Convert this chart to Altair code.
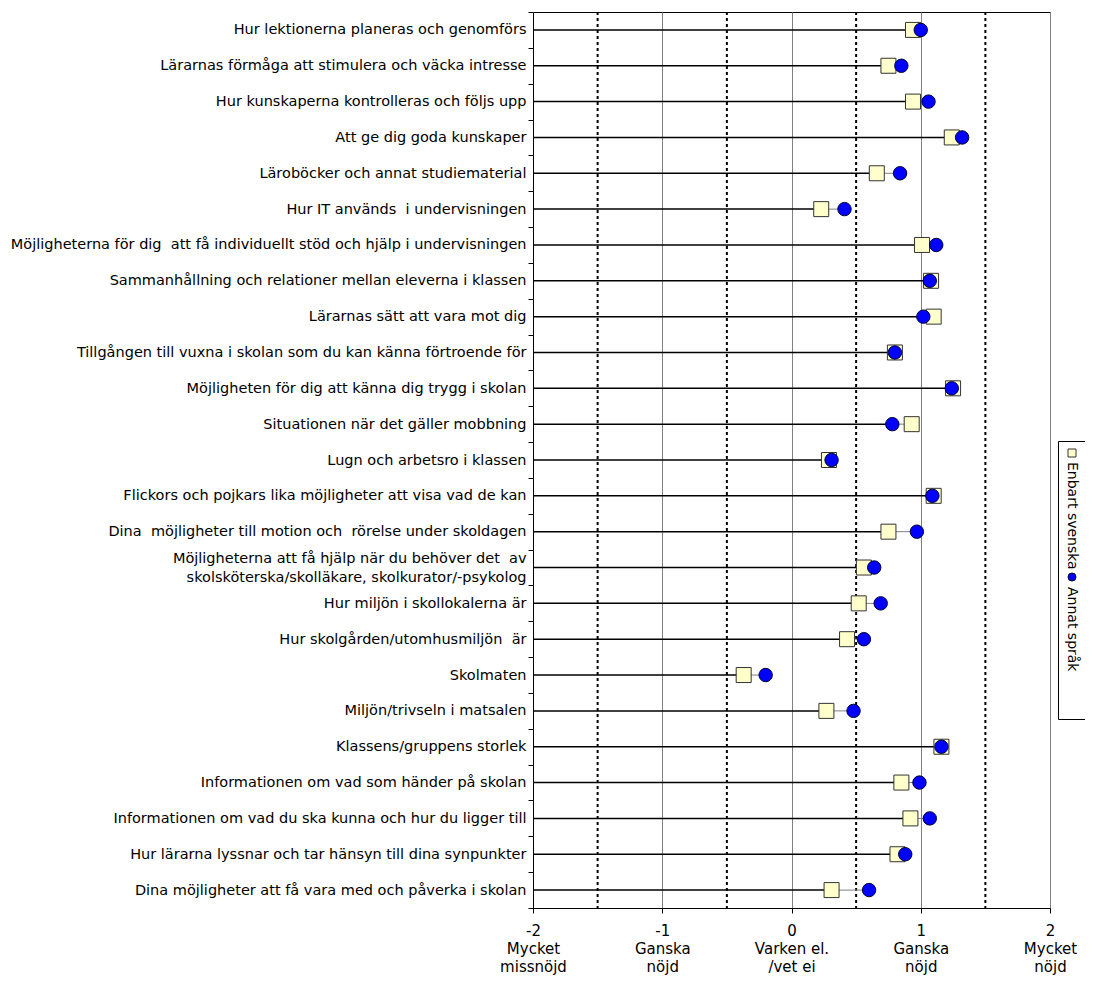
import json
import altair as alt
import pandas as pd

NB = "\u00a0"

categories = [
    "Hur lektionerna planeras och genomförs",
    "Lärarnas förmåga att stimulera och väcka intresse",
    "Hur kunskaperna kontrolleras och följs upp",
    "Att ge dig goda kunskaper",
    "Läroböcker och annat studiematerial" + NB,
    "Hur IT används" + NB + " i undervisningen",
    "Möjligheterna för dig" + NB + " att få individuellt stöd och hjälp i undervisningen",
    "Sammanhållning och relationer mellan eleverna i klassen" + NB,
    "Lärarnas sätt att vara mot dig" + NB,
    "Tillgången till vuxna i skolan som du kan känna förtroende för",
    "Möjligheten för dig att känna dig trygg i skolan",
    "Situationen när det gäller mobbning" + NB,
    "Lugn och arbetsro i klassen" + NB,
    "Flickors och pojkars lika möjligheter att visa vad de kan",
    "Dina" + NB + " möjligheter till motion och" + NB + " rörelse under skoldagen" + NB,
    "Möjligheterna att få hjälp när du behöver det" + NB + " av" + NB + NB + "|skolsköterska/skolläkare, skolkurator/-psykolog",
    "Hur miljön i skollokalerna är" + NB,
    "Hur skolgården/utomhusmiljön" + NB + " är" + NB,
    "Skolmaten" + NB,
    "Miljön/trivseln i matsalen",
    "Klassens/gruppens storlek" + NB,
    "Informationen om vad som händer på skolan",
    "Informationen om vad du ska kunna och hur du ligger till",
    "Hur lärarna lyssnar och tar hänsyn till dina synpunkter",
    "Dina möjligheter att få vara med och påverka i skolan",
]

enbart_svenska = [0.94, 0.75, 0.94, 1.24, 0.66, 0.23, 1.01, 1.08, 1.10, 0.80,
                  1.25, 0.93, 0.29, 1.10, 0.75, 0.56, 0.52, 0.43, -0.37, 0.27,
                  1.16, 0.85, 0.92, 0.82, 0.31]
annat_sprak = [1.00, 0.85, 1.06, 1.32, 0.84, 0.41, 1.12, 1.07, 1.02, 0.80,
               1.24, 0.78, 0.31, 1.09, 0.97, 0.64, 0.69, 0.56, -0.20, 0.48,
               1.16, 0.99, 1.07, 0.88, 0.60]

series_names = ["Enbart svenska", "Annat språk"]

x_tick_values = [-2, -1, 0, 1, 2]
x_tick_texts = ["-2|Mycket|missnöjd", "-1|Ganska|nöjd", "0|Varken el.|/vet ei",
                "1|Ganska|nöjd", "2|Mycket|nöjd"]
dotted_at = [-1.5, -0.5, 0.5, 1.5]

FONT = "DejaVu Sans"
FS = 14.5

df = pd.DataFrame({
    "cat": categories,
    "sv": enbart_svenska,
    "an": annat_sprak,
})
df["lo"] = df[["sv", "an"]].min(axis=1)
df["hi"] = df[["sv", "an"]].max(axis=1)

xscale = alt.Scale(domain=[-2, 2], nice=False, zero=False)
x_label_expr = (
    "split(" + json.dumps(x_tick_texts, ensure_ascii=False)
    + "[indexof(" + json.dumps(x_tick_values) + ", datum.value)], '|')"
)

yenc = alt.Y(
    "cat:N", sort=categories, title=None,
    scale=alt.Scale(paddingInner=0, paddingOuter=0),
    axis=alt.Axis(
        tickBand="extent", ticks=True, tickSize=5, tickColor="black",
        domainColor="black", labelFont=FONT, labelFontSize=FS, labelColor="black",
        labelPadding=2, labelLimit=0, labelLineHeight=19,
        labelOffset={"condition": {"test": "indexof(datum.label, '|') >= 0", "value": -9.5},
                     "value": 0},
        labelExpr="split(datum.label, '|')", grid=False,
    ),
)

base = alt.Chart(df)

xaxis = alt.Axis(
    values=x_tick_values, grid=True, gridColor="#808080", gridWidth=1,
    tickColor="black", tickSize=5, domainColor="black",
    labelFont=FONT, labelFontSize=15, labelColor="black",
    labelLineHeight=18, labelPadding=10, labelExpr=x_label_expr,
    labelFlush=False, labelOverlap=False, title=None,
)

stems = base.mark_rule(color="black", strokeWidth=1.5).encode(
    x=alt.X("lo:Q", scale=xscale, axis=xaxis),
    x2=alt.value(0),
    y=yenc,
)

dots_df = pd.DataFrame({"v": dotted_at})
dotted = alt.Chart(dots_df).mark_rule(
    color="black", strokeWidth=2, strokeDash=[3, 3]
).encode(x=alt.X("v:Q", scale=xscale))

gap = base.mark_rule(color="#808080", strokeWidth=1).encode(
    x=alt.X("lo:Q", scale=xscale), x2="hi:Q", y=alt.Y("cat:N", sort=categories)
)

squares = base.mark_point(
    shape="square", filled=True, size=225, fill="#FFFFCC", stroke="#333333",
    strokeWidth=1, opacity=1,
).encode(x=alt.X("sv:Q", scale=xscale), y=alt.Y("cat:N", sort=categories))

circles = base.mark_point(
    shape="circle", filled=True, size=180, fill="#0000FF", stroke="#000033",
    strokeWidth=1, opacity=1,
).encode(x=alt.X("an:Q", scale=xscale), y=alt.Y("cat:N", sort=categories))

# Legend (drawn manually, rotated)
one = pd.DataFrame({"a": [0]})
box = alt.Chart(one).mark_rect(
    fill="white", stroke="black", strokeWidth=1
).encode(x=alt.value(525.5), x2=alt.value(552.5), y=alt.value(429.5), y2=alt.value(707.5))

leg_sq = alt.Chart(one).mark_point(
    shape="square", filled=True, size=64, fill="#FFFFCC", stroke="#333333",
    strokeWidth=1, opacity=1,
).encode(x=alt.value(539), y=alt.value(441))

leg_t1 = alt.Chart(pd.DataFrame({"t": [series_names[0]]})).mark_text(
    angle=90, align="left", baseline="middle", font=FONT, fontSize=14, color="black"
).encode(x=alt.value(539), y=alt.value(450), text="t:N")

leg_ci = alt.Chart(one).mark_point(
    shape="circle", filled=True, size=64, fill="#0000FF", stroke="#000033",
    strokeWidth=1, opacity=1,
).encode(x=alt.value(539), y=alt.value(565))

leg_t2 = alt.Chart(pd.DataFrame({"t": [series_names[1]]})).mark_text(
    angle=90, align="left", baseline="middle", font=FONT, fontSize=14, color="black"
).encode(x=alt.value(539), y=alt.value(575), text="t:N")

chart = alt.layer(
    stems, dotted, gap, squares, circles, box, leg_sq, leg_t1, leg_ci, leg_t2
).properties(
    width=517, height=896,
    autosize=alt.AutoSizeParams(type="none"),
    padding={"left": 525, "top": 4, "right": 35, "bottom": 67},
    background="white",
).configure_view(stroke="black", strokeWidth=1)

chart.save("out.html", embed_options={"renderer": "svg", "actions": False})
